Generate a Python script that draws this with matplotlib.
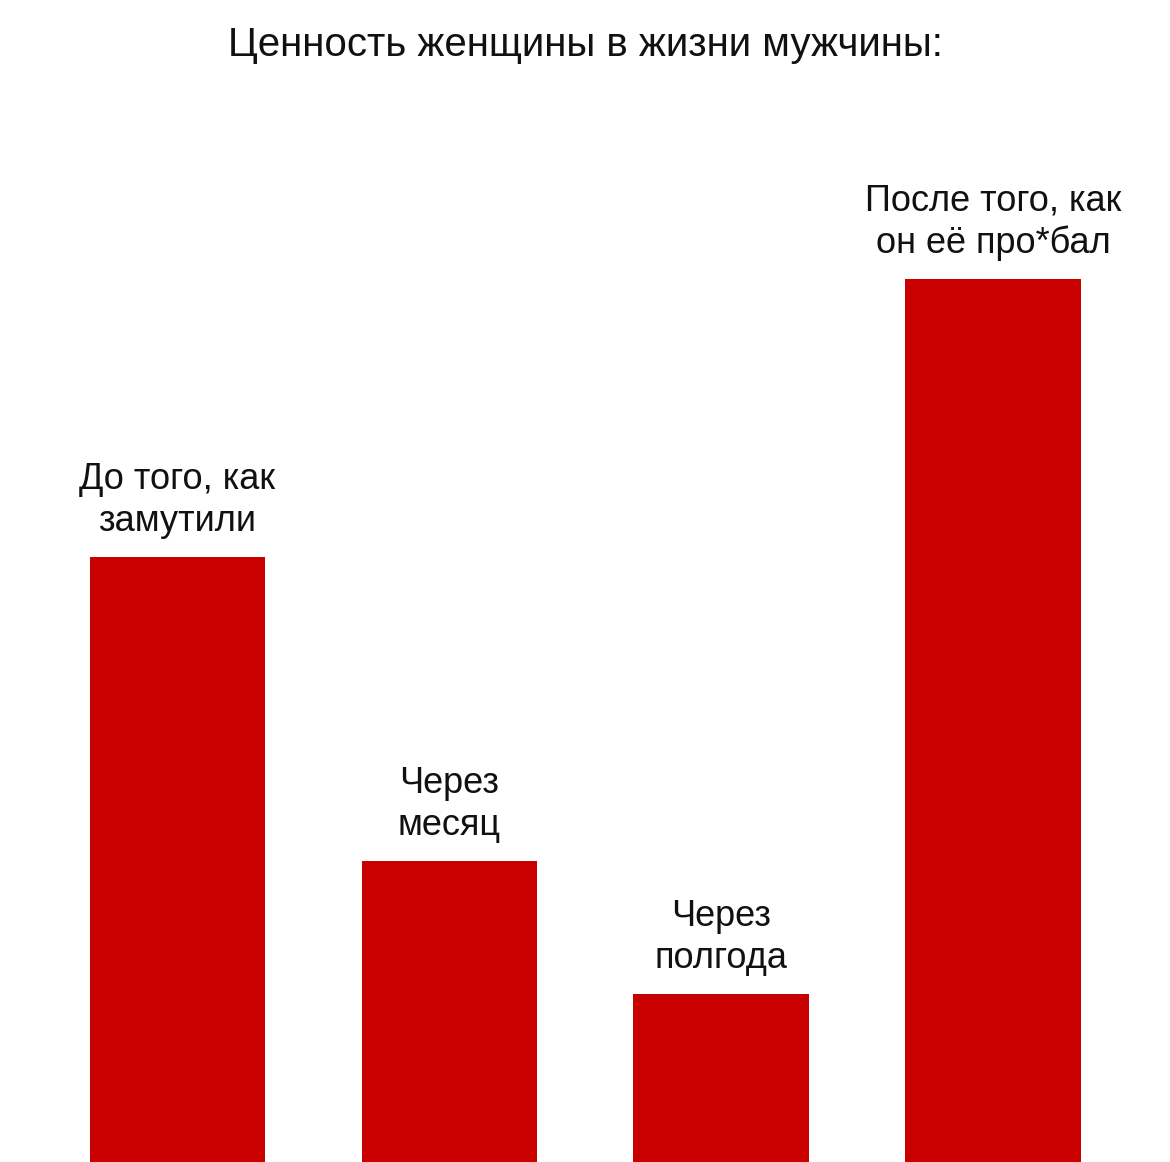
import matplotlib
matplotlib.use("Agg")
import matplotlib.pyplot as plt

title = "Ценность женщины в жизни мужчины:"
categories = ["До того, как\nзамутили", "Через\nмесяц", "Через\nполгода", "После того, как\nон её про*бал"]
values = [605, 301, 168, 883]

plt.rcParams['font.family'] = ['Liberation Sans', 'DejaVu Sans']
fig = plt.figure(figsize=(11.7, 11.62), dpi=100)
ax = fig.add_axes([0, 0, 1, 1])
x = list(range(len(values)))
ax.bar(x, values, width=0.647, color="#C80000")
for xi, v, lab in zip(x, values, categories):
    ax.text(xi, v + 18, lab, ha="center", va="bottom", fontsize=26, linespacing=1.25, color="#111111")
ax.text(0.5, 1 - 45/1162, title, transform=ax.transAxes, ha="center", va="center", fontsize=29, color="#111111")
ax.set_xlim(-0.6526, 3.649)
ax.set_ylim(0, 1162)
ax.axis("off")
fig.savefig("out.png", dpi=100, facecolor="white")
